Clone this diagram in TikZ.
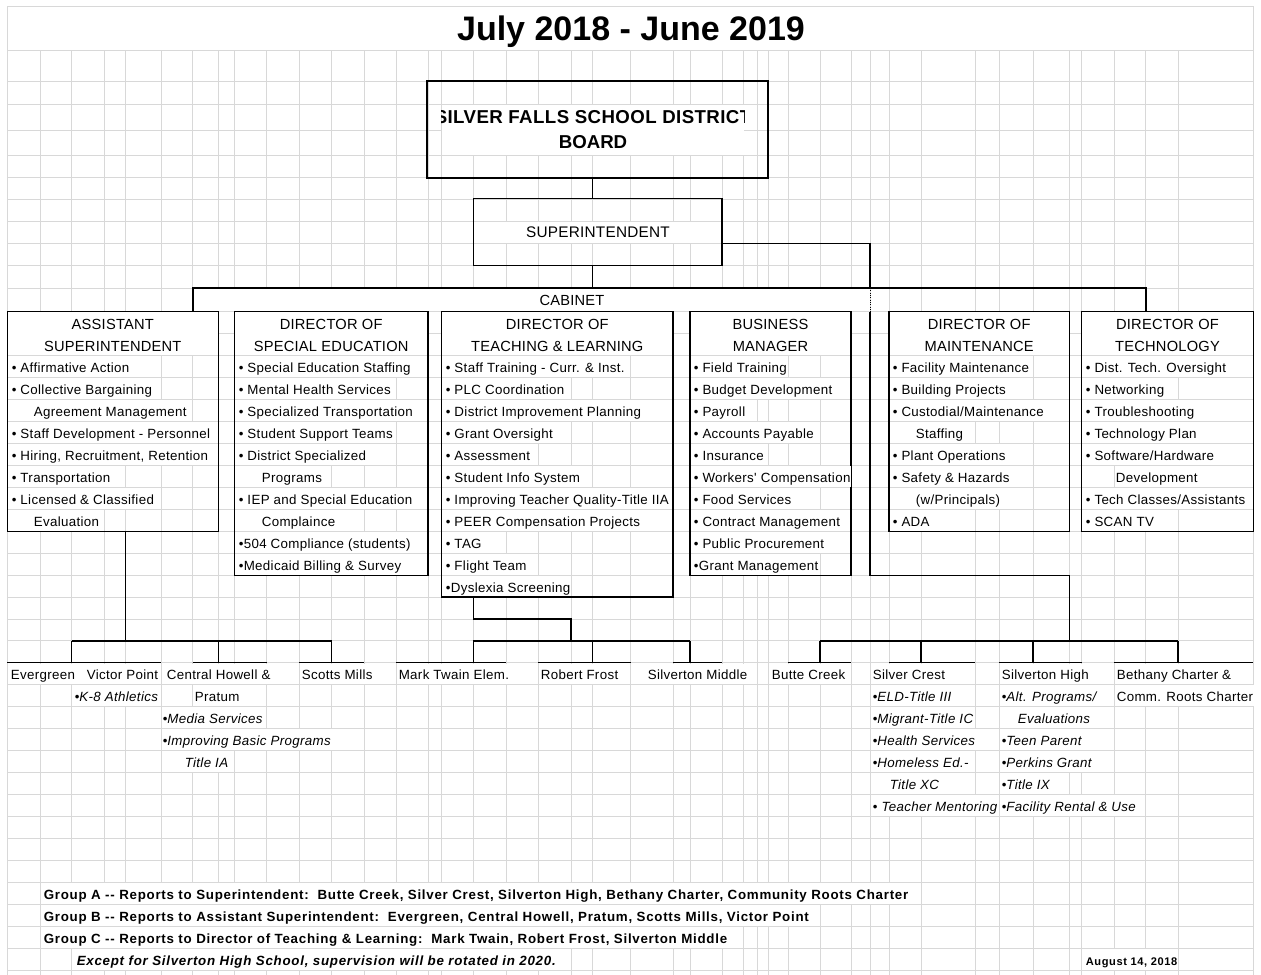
\documentclass[tikz,border=0pt]{standalone}
\usepackage{fontspec}
\setmainfont{Liberation Sans}
\newfontfamily\itmfont[LetterSpace=2.5]{Liberation Sans}
\newfontfamily\hdrfont[LetterSpace=1.5]{Liberation Sans}
\newfontfamily\grpfont[LetterSpace=5.5]{Liberation Sans}
\newfontfamily\brdfont[LetterSpace=2.2]{Liberation Sans}
\usetikzlibrary{fit}
\definecolor{gridc}{RGB}{216,216,216}
\newcommand\ry[1]{(311.7+21.95*(#1))}
\newcommand\rb[1]{(328.7+21.95*(#1))}
\newcounter{tn}
\newcommand\T[4][]{\stepcounter{tn}\node[itm,#1] (t\arabic{tn}) at (#2,{\rb{#3}}) {#4};}
\newcommand\HF[2]{\fill[white] ({#1+0.6},312.3) rectangle ({#2-0.6},355.0);}
\begin{document}
\begin{tikzpicture}[x=0.75pt,y=-0.75pt,
  grid/.style={draw=gridc,line width=0.75pt},
  itm/.style={anchor=base west,fill=white,inner xsep=0.4pt,inner ysep=0pt,text height=12.3pt,text depth=3.3pt,font=\itmfont\fontsize{10}{12}\selectfont},
  hdr/.style={anchor=base,inner sep=0pt,font=\hdrfont\fontsize{11}{13}\selectfont},
  box/.style={draw=black,line width=0.9pt,inner sep=0pt,outer sep=0pt},
  link/.style={draw=black,line width=0.9pt},
  grp/.style={itm,font=\grpfont\bfseries\fontsize{10}{12}\selectfont}]
\useasboundingbox (0,0) rectangle (1261,975);
\fill[white] (0,0) rectangle (1261,975);
% ---------- spreadsheet grid ----------
\foreach \x in {40,71.7,104,125.7,161,192.7,218.3,234.3,266.7,299,331.7,364,396,428,441.7,473.3,506,538.3,571,592.5,630.5,673,690,722,743.5,757.5,768.5,788,820,851,870,889,921,975,999,1033,1069.3,1081.7,1114,1145.7,1178}
  \draw[grid] (\x,50) -- (\x,975);
\draw[grid] (7.3,6) -- (7.3,975);
\draw[grid] (1253.3,6) -- (1253.3,975);
\foreach \y in {6,50,81,104,130,155,177.7,199,221,243.3,265.5,288}
  \draw[grid] (7.3,\y) -- (1253.3,\y);
\foreach \k in {0,...,30}
  \draw[grid] (7.3,{\ry{\k}}) -- (1253.3,{\ry{\k}});
% ---------- merged cells ----------
\fill[white] (442.2,104.5) rectangle (743.8,154.5);
\fill[white] (473.8,221.5) rectangle (721.2,242.8);
\fill[white] (193.2,288.5) rectangle (869.5,311.2);
\HF{7.3}{218.3}\HF{234.3}{428}\HF{441.7}{673}\HF{690}{851}\HF{889}{1069.3}\HF{1081.7}{1253.3}
% ---------- title ----------
\node[anchor=base,inner sep=0pt,font=\bfseries\fontsize{25.5}{30}\selectfont] (title) at (631,40) {July 2018 - June 2019};
% ---------- board and superintendent ----------
\begin{scope}
\clip (441.7,104) rectangle (744.3,155);
\node[anchor=base,inner sep=0pt,font=\brdfont\bfseries\fontsize{14}{16}\selectfont] (bt1) at (593,123.7) {SILVER FALLS SCHOOL DISTRICT};
\end{scope}
\node[anchor=base,inner sep=0pt,font=\bfseries\fontsize{14}{16}\selectfont] (bt2) at (593,148.7) {BOARD};
\node[anchor=base,inner sep=0pt,font=\hdrfont\fontsize{11.5}{13}\selectfont] (st) at (598,237.5) {SUPERINTENDENT};
\node[hdr] (cab) at (572,305.3) {CABINET};
% headers
\node[hdr] (h1a) at (112.8,329.7) {ASSISTANT};
\node[hdr] (h1b) at (112.8,351.65) {SUPERINTENDENT};
\node[hdr] (h2a) at (331.2,329.7) {DIRECTOR OF};
\node[hdr] (h2b) at (331.2,351.65) {SPECIAL EDUCATION};
\node[hdr] (h3a) at (557.3,329.7) {DIRECTOR OF};
\node[hdr] (h3b) at (557.3,351.65) {TEACHING \& LEARNING};
\node[hdr] (h4a) at (770.5,329.7) {BUSINESS};
\node[hdr] (h4b) at (770.5,351.65) {MANAGER};
\node[hdr] (h5a) at (979.2,329.7) {DIRECTOR OF};
\node[hdr] (h5b) at (979.2,351.65) {MAINTENANCE};
\node[hdr] (h6a) at (1167.5,329.7) {DIRECTOR OF};
\node[hdr] (h6b) at (1167.5,351.65) {TECHNOLOGY};
% assistant superintendent
\T{11}{2}{• Affirmative Action}
\T{11}{3}{• Collective Bargaining}
\T{33}{4}{Agreement Management}
\T{11}{5}{• Staff Development - Personnel}
\T{11}{6}{• Hiring, Recruitment, Retention}
\T{11}{7}{• Transportation}
\T{11}{8}{• Licensed \& Classified}
\T{33}{9}{Evaluation}
% special education
\T{238}{2}{• Special Education Staffing}
\T{238}{3}{• Mental Health Services}
\T{238}{4}{• Specialized Transportation}
\T{238}{5}{• Student Support Teams}
\T{238}{6}{• District Specialized}
\T{261}{7}{Programs}
\T{238}{8}{• IEP and Special Education}
\T{261}{9}{Complaince}
\T{238}{10}{•504 Compliance (students)}
\T{238}{11}{•Medicaid Billing \& Survey}
% teaching and learning
\T{445}{2}{• Staff Training - Curr. \& Inst.}
\T{445}{3}{• PLC Coordination}
\T{445}{4}{• District Improvement Planning}
\T{445}{5}{• Grant Oversight}
\T{445}{6}{• Assessment}
\T{445}{7}{• Student Info System}
\T{445}{8}{• Improving Teacher Quality-Title IIA}
\T{445}{9}{• PEER Compensation Projects}
\T{445}{10}{• TAG}
\T{445}{11}{• Flight Team}
\T{445}{12}{•Dyslexia Screening}
% business manager
\T{693}{2}{• Field Training}
\T{693}{3}{• Budget Development}
\T{693}{4}{• Payroll}
\T{693}{5}{• Accounts Payable}
\T{693}{6}{• Insurance}
\T{693}{8}{• Food Services}
\T{693}{9}{• Contract Management}
\T{693}{10}{• Public Procurement}
\T{693}{11}{•Grant Management}
% maintenance
\T{892}{2}{• Facility Maintenance}
\T{892}{3}{• Building Projects}
\T{892}{4}{• Custodial/Maintenance}
\T{915}{5}{Staffing}
\T{892}{6}{• Plant Operations}
\T{892}{7}{• Safety \& Hazards}
\T{915}{8}{(w/Principals)}
\T{892}{9}{• ADA}
% technology
\T{1085}{2}{• Dist. Tech. Oversight}
\T{1085}{3}{• Networking}
\T{1085}{4}{• Troubleshooting}
\T{1085}{5}{• Technology Plan}
\T{1085}{6}{• Software/Hardware}
\T{1115}{7}{Development}
\T{1085}{8}{• Tech Classes/Assistants}
\T{1085}{9}{• SCAN TV}
% ---------- boxes ----------
\node[box,line width=1.6pt,fit={(426.7,81) (768.3,177.7)}] (board) {};
\node[box,line width=1.2pt,fit={(473.3,198.3) (721.7,265.3)}] (supt) {};
\node[box,fit={(7.3,311.7) (218.3,531.2)}] (asst) {};
\node[box,fit={(234.3,311.7) (428,575.1)}] (sped) {};
\node[box,fit={(441.7,311.7) (673,597.05)}] (tl) {};
\node[box,fit={(690,311.7) (851,575.1)}] (bus) {};
\node[box,fit={(889,311.7) (1069.3,531.2)}] (maint) {};
\node[box,fit={(1081.7,311.7) (1253.3,531.2)}] (tech) {};
\T{693}{7}{• Workers' Compensation}
% ---------- schools ----------
\T{10}{16}{Evergreen}
\T{86}{16}{Victor Point}
\T{166}{16}{Central Howell \&}
\T{301}{16}{Scotts Mills}
\T{398}{16}{Mark Twain Elem.}
\T{540}{16}{Robert Frost}
\T{647}{16}{Silverton Middle}
\T{771}{16}{Butte Creek}
\T{872}{16}{Silver Crest}
\T{1001}{16}{Silverton High}
\T{1116}{16}{Bethany Charter \&}
\begin{scope}
\clip (71.7,{\ry{17}}) rectangle (160.4,{\ry{18}});
\T{74}{17}{•\textit{K-8 Athletics}}
\end{scope}
\T{194}{17}{Pratum}
\T{872}{17}{•\textit{ELD-Title III}}
\T{1001}{17}{•\textit{Alt. Programs/}}
\T{1116}{17}{Comm. Roots Charter}
\T{162}{18}{•\textit{Media Services}}
\T{872}{18}{•\textit{Migrant-Title IC}}
\T{1017}{18}{\textit{Evaluations}}
\T{162}{19}{•\textit{Improving Basic Programs}}
\T{872}{19}{•\textit{Health Services}}
\T{1001}{19}{•\textit{Teen Parent}}
\T{184}{20}{\textit{Title IA}}
\T{872}{20}{•\textit{Homeless Ed.-}}
\T{1001}{20}{•\textit{Perkins Grant}}
\T{889}{21}{\textit{Title XC}}
\T{1001}{21}{•\textit{Title IX}}
\begin{scope}
\clip (870,{\ry{22}}) rectangle (998.4,{\ry{23}});
\T{872}{22}{• \textit{Teacher Mentoring}}
\end{scope}
\T{1001}{22}{•\textit{Facility Rental \& Use}}
% ---------- notes ----------
\T[grp]{43}{26}{Group A -{}- Reports to Superintendent:\ \ Butte Creek, Silver Crest, Silverton High, Bethany Charter, Community Roots Charter}
\T[grp]{43}{27}{Group B -{}- Reports to Assistant Superintendent:\ \ Evergreen, Central Howell, Pratum, Scotts Mills, Victor Point}
\T[grp]{43}{28}{Group C -{}- Reports to Director of Teaching \& Learning:\ \ Mark Twain, Robert Frost, Silverton Middle}
\T[grp,font=\grpfont\bfseries\itshape\fontsize{10}{12}\selectfont]{76}{29}{Except for Silverton High School, supervision will be rotated in 2020.}
\T[grp,font=\grpfont\bfseries\fontsize{8.3}{10}\selectfont]{1085}{29}{August 14, 2018}
% ---------- connectors ----------
\coordinate (cabL) at (192.7,288);
\coordinate (cabM) at (592.5,288);
\coordinate (cabR) at (1145.7,288);
\coordinate (sR) at (870,243.3);
\draw[link] (board.south -| cabM) -- (supt.north -| cabM);
\draw[link] (supt.south -| cabM) -- (cabM);
\draw[link,line width=1.2pt] (cabL |- asst.north) -- (cabL) -- (cabR) -- (cabR |- tech.north);
\draw[link] (supt.east |- sR) -- (sR) -- (sR |- cabM);
\draw[black,line width=0.75pt,densely dotted] (sR |- cabM) -- (sR |- asst.north);
% school cell tops
\foreach \a/\b in {7.3/161,192.7/266.7,299/364,396/506,538.3/630.5,673/722,788/851,889/975,999/1081.7,1114/1253.3}
  \draw[link,line width=0.8pt] (\a,662.9) -- (\b,662.9);
% group B (assistant superintendent)
\coordinate (jB) at (125.7,640.95);
\coordinate (sEV) at (71.7,662.9);
\coordinate (sCH) at (218.3,662.9);
\coordinate (sSM) at (331.7,662.9);
\draw[link] (asst.south -| jB) -- (jB);
\draw[link] (sEV |- jB) -- (sSM |- jB);
\foreach \s in {sEV,sCH,sSM} \draw[link] (\s |- jB) -- (\s);
% group C (teaching and learning)
\coordinate (jC1) at (473.3,619);
\coordinate (jC2) at (571,619);
\coordinate (sMT) at (473.3,662.9);
\coordinate (sRF) at (592.5,662.9);
\coordinate (sSV) at (690,662.9);
\draw[link] (tl.south -| jC1) -- (jC1) -- (jC2) -- (jC2 |- jB);
\draw[link] (sMT |- jB) -- (sSV |- jB);
\foreach \s in {sMT,sRF,sSV} \draw[link] (\s |- jB) -- (\s);
% group A (superintendent)
\coordinate (jA1) at (870,575.1);
\coordinate (jA2) at (1069.3,575.1);
\coordinate (sBC) at (820,662.9);
\coordinate (sSC) at (921,662.9);
\coordinate (sSH) at (1033,662.9);
\coordinate (sBE) at (1178,662.9);
\draw[link] (sR |- asst.north) -- (jA1) -- (jA2) -- (jA2 |- jB);
\draw[link] (sBC |- jB) -- (sBE |- jB);
\foreach \s in {sBC,sSC,sSH,sBE} \draw[link] (\s |- jB) -- (\s);
\end{tikzpicture}
\end{document}
